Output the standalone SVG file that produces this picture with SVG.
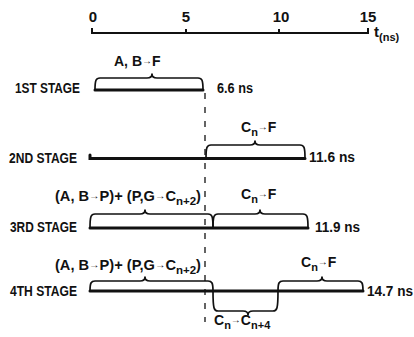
<svg xmlns="http://www.w3.org/2000/svg" width="414" height="337" viewBox="0 0 414 337">
<style>
text{font-family:"Liberation Sans",Arial,sans-serif;font-weight:bold;fill:#111;font-size:14px}
.num{font-size:15px}
.sub{font-size:11px}
.arr{font-size:10px}
.bar{stroke:#111;stroke-width:3;fill:none;stroke-linecap:round}
.br{stroke:#111;stroke-width:1.7;fill:none;stroke-linejoin:round}
.ax{stroke:#111;stroke-width:2;fill:none}
.dash{stroke:#111;stroke-width:1.3;stroke-dasharray:6 8;fill:none}
</style>
<rect width="414" height="337" fill="#fff"/>
<g id="axis">
<path class="ax" d="M92 28 V33 H368 V28 M186 33 V29 M279 33 V29"/>
<text class="num" x="93" y="22" text-anchor="middle">0</text>
<text class="num" x="186" y="22" text-anchor="middle">5</text>
<text class="num" x="281" y="22" text-anchor="middle">10</text>
<text class="num" x="368" y="22" text-anchor="middle">15</text>
<text class="num" x="374" y="37">t<tspan class="sub" dy="4">(ns)</tspan></text>
</g>
<g id="connectors">
<path class="dash" d="M205 93 V322"/>
</g>
<g id="stage1">
<text x="15" y="93" textLength="65" lengthAdjust="spacingAndGlyphs">1ST STAGE</text>
<path class="bar" d="M95 90 H203"/>
<path class="br" d="M95 90 C95 80 96 78 100 78 L147 78 Q152 78 152 74 Q152 78 157 78 L198 78 C202 78 203 80 203 90"/>
<text x="114" y="66">A, B<tspan class="arr" dy="-2">→</tspan><tspan dy="2">F</tspan></text>
<text x="217" y="93" textLength="36" lengthAdjust="spacingAndGlyphs">6.6 ns</text>
</g>
<g id="stage2">
<text x="9" y="163" textLength="68" lengthAdjust="spacingAndGlyphs">2ND STAGE</text>
<path class="bar" d="M90 155 V158.5 H305"/>
<path class="br" d="M206 158 C206 147 207 145 211 145 L250 145 Q255 145 255 141 Q255 145 260 145 L300 145 C304 145 305 147 305 158"/>
<text x="241" y="132">C<tspan class="sub" dy="4">n</tspan><tspan class="arr" dy="-6">→</tspan><tspan dy="2">F</tspan></text>
<text x="309" y="162" textLength="46" lengthAdjust="spacingAndGlyphs">11.6 ns</text>
</g>
<g id="stage3">
<text x="10" y="232" textLength="67" lengthAdjust="spacingAndGlyphs">3RD STAGE</text>
<path class="bar" d="M90 228 H308"/>
<path class="br" d="M90 228 C90 216 91 214 95 214 L140 214 Q145 214 145 210 Q145 214 150 214 L208 214 C212 214 213 216 213 228"/>
<path class="br" d="M213 228 C213 216 214 214 218 214 L255 214 Q260 214 260 210 Q260 214 265 214 L303 214 C307 214 308 216 308 228"/>
<text x="55" y="201" textLength="146" lengthAdjust="spacingAndGlyphs">(A, B<tspan class="arr" dy="-2">→</tspan><tspan dy="2">P)+ (P,G</tspan><tspan class="arr" dy="-2">→</tspan><tspan dy="2">C</tspan><tspan class="sub" dy="4">n+2</tspan><tspan dy="-4">)</tspan></text>
<text x="241" y="199">C<tspan class="sub" dy="4">n</tspan><tspan class="arr" dy="-6">→</tspan><tspan dy="2">F</tspan></text>
<text x="315" y="232" textLength="45" lengthAdjust="spacingAndGlyphs">11.9 ns</text>
</g>
<g id="stage4">
<text x="10" y="296" textLength="67" lengthAdjust="spacingAndGlyphs">4TH STAGE</text>
<path class="bar" d="M90 291 H363"/>
<path class="br" d="M90 291 C90 283 91 281 95 281 L140 281 Q145 281 145 277 Q145 281 150 281 L208 281 C212 281 213 283 213 291"/>
<path class="br" d="M213 291 C213 309 214 311 218 311 L243 311 Q248 311 248 315 Q248 311 253 311 L273 311 C277 311 278 309 278 291"/>
<path class="br" d="M278 291 C278 283 279 281 283 281 L317 281 Q322 281 322 277 Q322 281 327 281 L358 281 C362 281 363 283 363 291"/>
<text x="55" y="270" textLength="146" lengthAdjust="spacingAndGlyphs">(A, B<tspan class="arr" dy="-2">→</tspan><tspan dy="2">P)+ (P,G</tspan><tspan class="arr" dy="-2">→</tspan><tspan dy="2">C</tspan><tspan class="sub" dy="4">n+2</tspan><tspan dy="-4">)</tspan></text>
<text x="301" y="267">C<tspan class="sub" dy="4">n</tspan><tspan class="arr" dy="-6">→</tspan><tspan dy="2">F</tspan></text>
<text x="214" y="325">C<tspan class="sub" dy="4">n</tspan><tspan class="arr" dy="-6">→</tspan><tspan dy="2">C</tspan><tspan class="sub" dy="4">n+4</tspan></text>
<text x="367" y="296" textLength="46" lengthAdjust="spacingAndGlyphs">14.7 ns</text>
</g>
</svg>
